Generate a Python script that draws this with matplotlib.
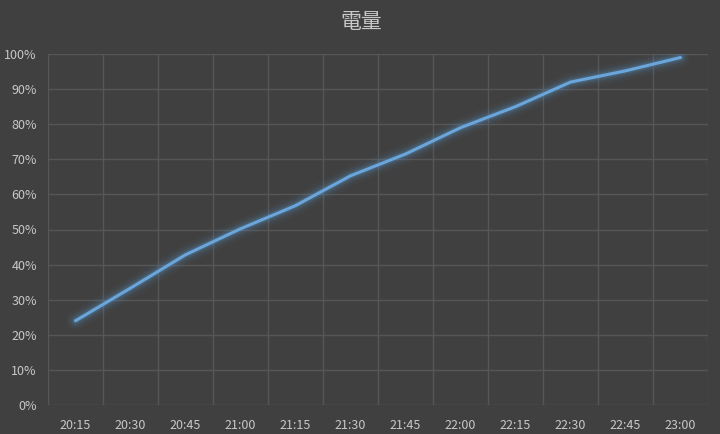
import matplotlib
matplotlib.use("Agg")
import matplotlib.pyplot as plt
import numpy as np

times = ["20:15", "20:30", "20:45", "21:00", "21:15", "21:30",
         "21:45", "22:00", "22:15", "22:30", "22:45", "23:00"]
battery = [24, 33.3, 42.8, 50.2, 56.8, 65.3, 71.5, 79, 85, 92, 95.2, 99]
yticks = [0, 10, 20, 30, 40, 50, 60, 70, 80, 90, 100]
title = "電量"

plt.rcParams['font.family'] = ['Noto Sans CJK TC', 'DejaVu Sans']

bg = "#404040"
grid_c = "#565656"
txt_c = "#c8c8c8"
line_c = "#5b9bd5"

fig = plt.figure(figsize=(7.2, 4.34), dpi=100, facecolor=bg)
ax = fig.add_axes([48/720, 1-405/434, 660/720, 351/434], facecolor=bg)

x = np.arange(len(times))
# glow
for lw, a in [(14, 0.04), (10, 0.07), (7, 0.11), (4.5, 0.18)]:
    ax.plot(x, battery, color=line_c, lw=lw, alpha=a, solid_capstyle='round', solid_joinstyle='round')
ax.plot(x, battery, color="#6aa6dc", lw=2.2, solid_capstyle='round', solid_joinstyle='round')

ax.set_xlim(-0.5, len(times) - 0.5)
ax.set_ylim(0, 100)
ax.set_xticks(x)
ax.set_xticklabels(times)
ax.set_xticks(np.arange(-0.5, len(times), 1), minor=True)
ax.set_yticks(yticks)
ax.set_yticklabels([f"{v}%" for v in yticks])
ax.tick_params(which='both', length=0, colors=txt_c, labelsize=9)
ax.tick_params(axis='x', pad=10)
ax.tick_params(axis='y', pad=8)
ax.grid(True, which='major', axis='y', color=grid_c, lw=1)
ax.grid(True, which='minor', axis='x', color=grid_c, lw=1)
for s in ax.spines.values():
    s.set_visible(False)
ax.set_axisbelow(True)

fig.text(361/720, 1-22/434, title, ha='center', va='center', color=txt_c, fontsize=15)

fig.savefig("out.png", dpi=100, facecolor=bg)
